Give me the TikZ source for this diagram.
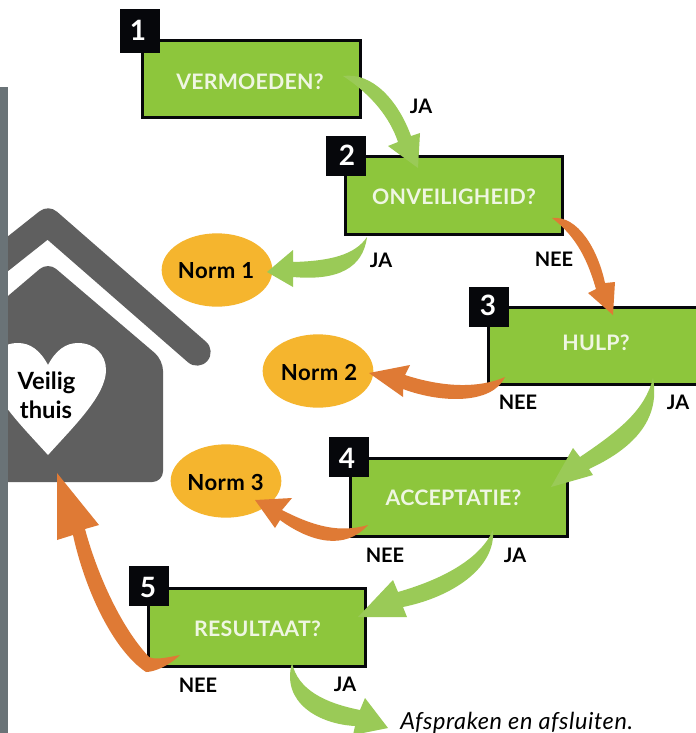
\documentclass[tikz,border=0pt]{standalone}
\usepackage{fontspec}
\setmainfont{Lato}
\newfontfamily\qfont[LetterSpace=1]{Lato}
\newfontfamily\spacedfont[LetterSpace=2]{Lato}
\newfontfamily\endfont[LetterSpace=2.5,ItalicFont=Lato Italic]{Lato}
\definecolor{boxgreen}{HTML}{8DC63C}
\definecolor{arrowgreen}{HTML}{9ACA57}
\definecolor{arroworange}{HTML}{DF7A35}
\definecolor{normyellow}{HTML}{F5B52E}
\definecolor{housegrey}{HTML}{5F5F5F}
\definecolor{bargrey}{HTML}{6A7377}
\definecolor{inkblack}{HTML}{06070B}
\definecolor{boxtext}{HTML}{EFF6E2}
\tikzset{
  qbox/.style={draw=inkblack,fill=boxgreen,line width=2.4pt,inner sep=0pt},
  qtext/.style={text=boxtext,font=\qfont\bfseries\fontsize{16}{18}\selectfont,inner sep=0pt},
  numbox/.style={fill=inkblack,inner sep=0pt,minimum width=30pt,minimum height=30pt},
  numtext/.style={text=white,font=\bfseries\fontsize{21}{24}\selectfont,inner sep=0pt},
  normnode/.style={ellipse,fill=normyellow,inner sep=0pt,minimum width=83pt,minimum height=55pt},
  normtext/.style={text=black,font=\spacedfont\bfseries\fontsize{16.6}{20}\selectfont,inner sep=0pt},
  housetext/.style={text=black,font=\bfseries\fontsize{17.8}{20}\selectfont,inner sep=0pt},
  answer/.style={text=black,font=\bfseries\fontsize{15}{17}\selectfont,inner sep=0pt},
  greenarrow/.style={fill=arrowgreen},
  orangearrow/.style={fill=arroworange},
}
\usetikzlibrary{shapes.geometric}
\begin{document}
\begin{tikzpicture}[x=0.75pt,y=-0.75pt]
\useasboundingbox (0,0) rectangle (696,733);
\clip (0,0) rectangle (696,733);
\fill[white] (0,0) rectangle (696,733);
% house
\draw[housegrey,line width=20.5pt,line cap=round,line join=round] (-5,264) -- (48,222) -- (197,352);
\fill[housegrey,rounded corners=8pt] (-5,307) -- (48,262) -- (163,360) -- (163,482) -- (-5,482) -- cycle;
\fill[white] (48,365) .. controls (56,350) and (66,343) .. (78,343)
  .. controls (95,343) and (106,355) .. (106,370)
  .. controls (106,395) and (75,425) .. (48,455)
  .. controls (21,425) and (-10,395) .. (-10,370)
  .. controls (-10,355) and (1,343) .. (18,343)
  .. controls (30,343) and (40,350) .. (48,365) -- cycle;
\fill[white] (-10,200) rectangle (7,500);
\fill[bargrey] (0,87) rectangle (7.5,733);
\node[housetext] (veilig) at (46.5,383) {Veilig};
\node[housetext] (thuis) at (46,410) {thuis};
% question boxes
\node[qbox,minimum width=163.5pt,minimum height=57.75pt] (b1) at (251.5,79) {};
\node[qbox,minimum width=162.75pt,minimum height=58.5pt] (b2) at (454,195.5) {};
\node[qbox,minimum width=163.5pt,minimum height=57.75pt] (b3) at (597.5,346) {};
\node[qbox,minimum width=162.75pt,minimum height=58.5pt] (b4) at (459,497.5) {};
\node[qbox,minimum width=162.75pt,minimum height=58.5pt] (b5) at (257,627.5) {};
\node[qtext] (q1) at (250,82) {VERMOEDEN?};
\node[qtext] (q2) at (454,197) {ONVEILIGHEID?};
\node[qtext] (q3) at (596,343) {HULP?};
\node[qtext] (q4) at (453.5,498) {ACCEPTATIE?};
\node[qtext] (q5) at (257.5,629) {RESULTAAT?};
% number squares
\node[numbox,minimum height=33pt] (s1) at (140,31) {};
\node[numbox] (s2) at (346,156) {};
\node[numbox] (s3) at (489,307) {};
\node[numbox] (s4) at (349,457) {};
\node[numbox] (s5) at (149,586) {};
\node[numtext] (n1) at (138,30) {1};
\node[numtext] (n2) at (347,155) {2};
\node[numtext] (n3) at (488,305) {3};
\node[numtext] (n4) at (347,458) {4};
\node[numtext] (n5) at (148,587) {5};
% norm ellipses
\node[normnode] (e1) at (217,270) {};
\node[normnode] (e2) at (318,371) {};
\node[normnode] (e3) at (226,481) {};
\node[normtext] (m1) at (216,271) {Norm 1};
\node[normtext] (m2) at (319,372) {Norm 2};
\node[normtext] (m3) at (225.5,482) {Norm 3};
% connector ends
\coordinate (t1) at (343,76);   \coordinate (h1) at (418,168);
\coordinate (t2) at (367,237);  \coordinate (h2) at (267,272);
\coordinate (t3) at (552,218);  \coordinate (h3) at (613,315);
\coordinate (t4) at (505,377);  \coordinate (h4) at (369,373);
\coordinate (t5) at (653,378);  \coordinate (h5) at (551,487);
\coordinate (t6) at (493,530);  \coordinate (h6) at (358,617);
\coordinate (t7) at (368,525);  \coordinate (h7) at (255,500);
\coordinate (t8) at (180,655);  \coordinate (h8) at (57,473);
\coordinate (t9) at (292,663);  \coordinate (h9) at (388,728);
% connectors
\fill[greenarrow] (t1) .. controls (372,72) and (398,100) .. (411,136) -- (420,133) -- (h1) -- (388,146) -- (398,142) .. controls (390,118) and (372,95) .. (t1) -- cycle;
\fill[greenarrow] (t2) .. controls (355,255) and (330,261) .. (293,262) -- (293,250) -- (h2) -- (293,287) -- (293,277) .. controls (338,281) and (363,268) .. (t2) -- cycle;
\fill[orangearrow] (t3) .. controls (578,215) and (598,250) .. (605,283) -- (615,282) -- (h3) -- (588,293) -- (596,289) .. controls (588,262) and (578,238) .. (t3) -- cycle;
\fill[orangearrow] (t4) .. controls (480,388) and (445,388) .. (405,375) -- (410,365) -- (h4) -- (403,397) -- (403,389) .. controls (440,403) and (492,405) .. (t4) -- cycle;
\fill[greenarrow] (t5) .. controls (645,410) and (620,430) .. (580,457) -- (573,448) -- (h5) -- (593,475) -- (589,469) .. controls (630,450) and (661,422) .. (t5) -- cycle;
\fill[greenarrow] (t6) .. controls (480,560) and (440,580) .. (398,592) -- (393,580) -- (h6) -- (407,617) -- (403,607) .. controls (452,597) and (496,568) .. (t6) -- cycle;
\fill[orangearrow] (t7) .. controls (340,533) and (315,527) .. (282,510) -- (292,498) -- (h7) -- (275,528) -- (280,520) .. controls (310,542) and (345,551) .. (t7) -- cycle;
\fill[orangearrow] (t8) .. controls (165,658) and (155,660) .. (149,657) .. controls (119,625) and (96,570) .. (85,529) -- (99,525) -- (h8) -- (57,540) -- (73,535) .. controls (85,590) and (113,650) .. (146,672) .. controls (155,672) and (170,665) .. (t8) -- cycle;
\fill[greenarrow] (t9) .. controls (298,690) and (325,703) .. (360,710) -- (365,698) -- (h9) -- (353,735) -- (355,726) .. controls (318,724) and (281,702) .. (t9) -- cycle;
% answers
\node[answer] (a1) at (421,106) {JA};
\node[answer] (a2) at (381,260) {JA};
\node[answer] (a3) at (554,259) {NEE};
\node[answer] (a4) at (518,402) {NEE};
\node[answer] (a5) at (678,402) {JA};
\node[answer] (a6) at (385,555) {NEE};
\node[answer] (a7) at (515,555) {JA};
\node[answer] (a8) at (198,685) {NEE};
\node[answer] (a9) at (345,684) {JA};
\node[inner sep=0pt,anchor=west,font=\endfont\itshape\fontsize{17.6}{20}\selectfont] (end) at (400,722.5) {Afspraken en afsluiten.};
\end{tikzpicture}
\end{document}
